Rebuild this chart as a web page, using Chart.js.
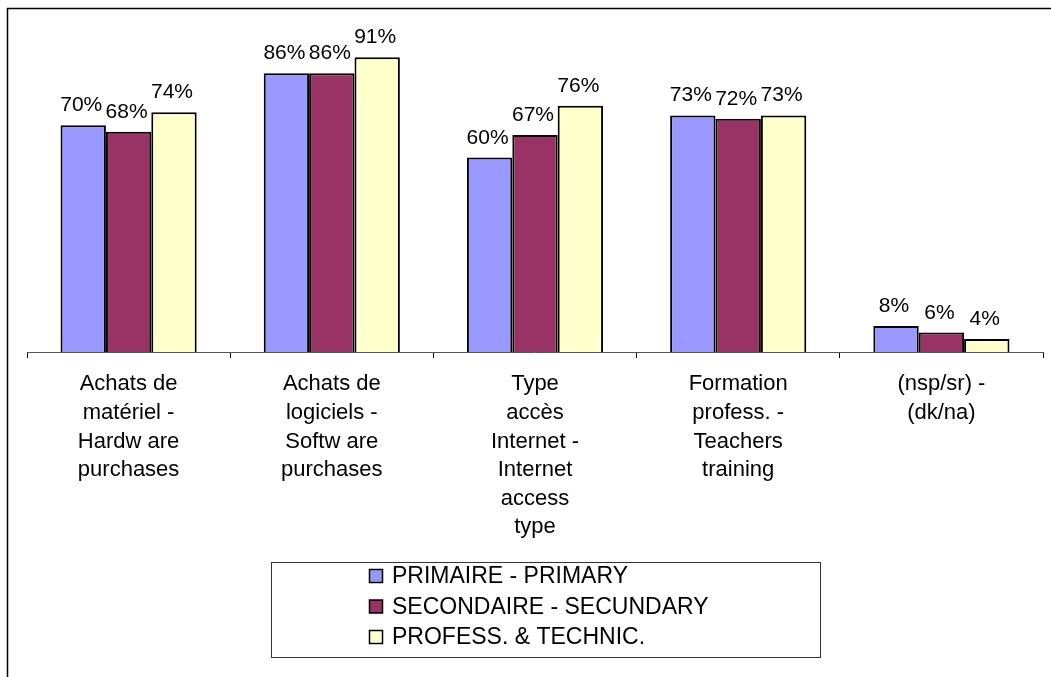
<!DOCTYPE html>
<html>
<head>
<meta charset="utf-8">
<script src="https://cdn.jsdelivr.net/npm/chart.js@4/dist/chart.umd.min.js"></script>
<style>
  html, body { margin: 0; padding: 0; background: #fff; overflow: hidden; }
  canvas { display: block; }
</style>
</head>
<body>
<canvas id="c0" width="1051" height="677" style="width:1051px;height:677px"></canvas>
<script>
// --- data ---
var categories = [
  ['Achats de', 'matériel -', 'Hardw are', 'purchases'],
  ['Achats de', 'logiciels -', 'Softw are', 'purchases'],
  ['Type', 'accès', 'Internet -', 'Internet', 'access', 'type'],
  ['Formation', 'profess. -', 'Teachers', 'training'],
  ['(nsp/sr) -', '(dk/na)']
];
var seriesNames = ['PRIMAIRE - PRIMARY', 'SECONDAIRE - SECUNDARY', 'PROFESS. & TECHNIC.'];
var primaire   = [70, 86, 60, 73, 8];
var secondaire = [68, 86, 67, 72, 6];
var profess    = [74, 91, 76, 73, 4];
var seriesColors = ['#9999FF', '#993366', '#FFFFCC'];

var FONT = 'Arial, "Liberation Sans", sans-serif';

// frame round the picture (left + top edge only are visible)
var framePlugin = {
  id: 'frame',
  beforeDraw: function(chart) {
    var ctx = chart.ctx;
    ctx.save();
    ctx.fillStyle = '#fff';
    ctx.fillRect(0, 0, chart.width, chart.height);
    ctx.strokeStyle = '#000';
    ctx.lineWidth = 1.5;
    ctx.beginPath();
    ctx.moveTo(7.5, chart.height);
    ctx.lineTo(7.5, 8.5);
    ctx.lineTo(chart.width, 8.5);
    ctx.stroke();
    ctx.restore();
  }
};

// percent labels over each bar
var valueLabels = {
  id: 'valueLabels',
  afterDatasetsDraw: function(chart) {
    var ctx = chart.ctx;
    ctx.save();
    ctx.font = '21px ' + FONT;
    ctx.fillStyle = '#000';
    ctx.textAlign = 'center';
    ctx.textBaseline = 'alphabetic';
    chart.data.datasets.forEach(function(ds, i) {
      var meta = chart.getDatasetMeta(i);
      meta.data.forEach(function(bar, j) {
        ctx.fillText(ds.data[j] + '%', bar.x - 2, bar.y - 14);
      });
    });
    ctx.restore();
  }
};

// boxed legend under the chart
var boxLegend = {
  id: 'boxLegend',
  afterDraw: function(chart) {
    var ctx = chart.ctx;
    ctx.save();
    ctx.strokeStyle = '#333';
    ctx.lineWidth = 1;
    ctx.strokeRect(271.5, 562.5, 549, 95);
    ctx.font = '23px ' + FONT;
    ctx.textBaseline = 'middle';
    ctx.textAlign = 'left';
    chart.data.datasets.forEach(function(ds, i) {
      var cy = 576 + i * 30.5;
      ctx.fillStyle = ds.backgroundColor;
      ctx.fillRect(369.5, cy - 6.5, 13, 13);
      ctx.strokeStyle = '#000';
      ctx.lineWidth = 1.5;
      ctx.strokeRect(369.5, cy - 6.5, 13, 13);
      ctx.fillStyle = '#000';
      ctx.fillText(ds.label, 392, cy + 1);
    });
    ctx.restore();
  }
};

var datasets = [primaire, secondaire, profess].map(function(vals, i) {
  return {
    label: seriesNames[i],
    data: vals,
    backgroundColor: seriesColors[i],
    borderColor: '#000',
    borderWidth: 2,
    borderSkipped: 'bottom',
    barPercentage: 1.0,
    categoryPercentage: 0.67
  };
});

var chart = new Chart(document.getElementById('c0'), {
  type: 'bar',
  data: { labels: categories, datasets: datasets },
  options: {
    responsive: false,
    maintainAspectRatio: false,
    animation: false,
    devicePixelRatio: 1,
    layout: { padding: { left: 27, right: 8, top: 28, bottom: 0 } },
    plugins: {
      legend: { display: false },
      tooltip: { enabled: false }
    },
    scales: {
      x: {
        offset: true,
        afterFit: function(s) { s.height = 677 - 352; },
        grid: {
          display: true,
          offset: true,
          drawOnChartArea: false,
          drawTicks: true,
          tickLength: 6,
          color: '#000',
          lineWidth: 1
        },
        border: { display: true, color: '#555', width: 1 },
        ticks: {
          color: '#000',
          padding: 12,
          maxRotation: 0,
          autoSkip: false,
          font: { family: FONT, size: 22, lineHeight: 1.3 }
        }
      },
      y: {
        display: false,
        min: 0,
        max: 100
      }
    }
  },
  plugins: [framePlugin, valueLabels, boxLegend]
});
</script>
</body>
</html>
